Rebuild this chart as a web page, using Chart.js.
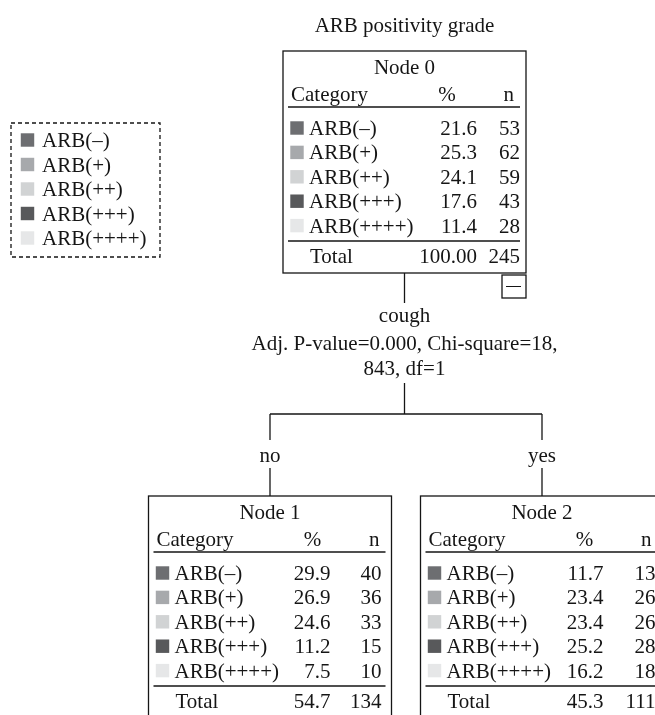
<!DOCTYPE html>
<html>
<head>
<meta charset="utf-8">
<title>ARB positivity grade</title>
<script src="https://cdn.jsdelivr.net/npm/chart.js@4.4.1/dist/chart.umd.min.js"></script>
<style>
  html, body { margin: 0; padding: 0; background: #fff; }
  canvas { display: block; }
</style>
</head>
<body>
<canvas id="tree" width="655" height="715"></canvas>
<script>
// datos del arbol
const chartTitle = "ARB positivity grade";
const categories = ["ARB(–)", "ARB(+)", "ARB(++)", "ARB(+++)", "ARB(++++)"];
const categoryColors = ["#6d6e71", "#a7a9ac", "#d1d3d4", "#58595b", "#e6e7e8"];
const nodeNames = ["Node 0", "Node 1", "Node 2"];
const node0Pct = [21.6, 25.3, 24.1, 17.6, 11.4];
const node0N = [53, 62, 59, 43, 28];
const node1Pct = [29.9, 26.9, 24.6, 11.2, 7.5];
const node1N = [40, 36, 33, 15, 10];
const node2Pct = [11.7, 23.4, 23.4, 25.2, 16.2];
const node2N = [13, 26, 26, 28, 18];
const totalPct = ["100.00", "54.7", "45.3"];
const totalN = [245, 134, 111];
const splitVariable = "cough";
const splitStats = ["Adj. P-value=0.000, Chi-square=18,", "843, df=1"];
const branchLabels = ["no", "yes"];

const nodePct = [node0Pct, node1Pct, node2Pct];
const nodeN = [node0N, node1N, node2N];

// layout del diagrama (en unidades de las escalas x / y)
const W = 655, H = 715;
const boxW = 243, boxH = 222;
const nodeBoxes = [
  { left: 283, top: 51 },
  { left: 148.5, top: 496 },
  { left: 420.5, top: 496 }
];
const pctRight = [194, 182, 183];
const nRight = [237, 233, 235];
const rowY = (top, i) => top + 77 + i * 24.4;
const legendRowY = i => 140 + i * 24.5;
const FONT = "21px 'Liberation Serif', 'DejaVu Serif', serif";
const INK = "#151515";

// cuadrados de color: un dataset por categoria (leyenda + cada nodo)
const datasets = categories.map((c, i) => {
  const pts = [{ x: 27.5, y: legendRowY(i) }];
  nodeBoxes.forEach(b => pts.push({ x: b.left + 14, y: rowY(b.top, i) }));
  return {
    label: c,
    data: pts,
    pointStyle: "rect",
    pointRadius: 9.5,
    pointBorderWidth: 0,
    backgroundColor: categoryColors[i],
    borderColor: categoryColors[i]
  };
});

const treePlugin = {
  id: "treePlugin",
  afterDatasetsDraw(chart) {
    const ctx = chart.ctx;
    const X = v => chart.scales.x.getPixelForValue(v);
    const Y = v => chart.scales.y.getPixelForValue(v);
    const line = (x1, y1, x2, y2) => {
      ctx.beginPath();
      ctx.moveTo(X(x1), Y(y1));
      ctx.lineTo(X(x2), Y(y2));
      ctx.stroke();
    };
    const text = (s, x, y, align) => {
      ctx.textAlign = align;
      ctx.fillText(String(s), X(x), Y(y));
    };

    ctx.save();
    ctx.font = FONT;
    ctx.fillStyle = INK;
    ctx.strokeStyle = INK;
    ctx.lineWidth = 1.3;
    ctx.textBaseline = "alphabetic";

    // titulo
    text(chartTitle, 404.5, 32, "center");

    // leyenda con borde punteado
    ctx.setLineDash([4, 3]);
    ctx.strokeRect(X(11), Y(123), X(160) - X(11), Y(257) - Y(123));
    ctx.setLineDash([]);
    categories.forEach((c, i) => text(c, 42, legendRowY(i) + 7, "left"));

    // nodos
    nodeBoxes.forEach((b, k) => {
      const L = b.left, T = b.top, R = L + boxW;
      ctx.strokeRect(X(L), Y(T), X(R) - X(L), Y(T + boxH) - Y(T));
      text(nodeNames[k], L + boxW / 2, T + 23, "center");
      text("Category", L + 8, T + 50, "left");
      text("%", L + 164, T + 50, "center");
      text("n", L + 231, T + 50, "right");
      line(L + 5, T + 56, R - 6, T + 56);
      categories.forEach((c, i) => {
        const yb = rowY(T, i) + 7;
        text(c, L + 26, yb, "left");
        text(nodePct[k][i].toFixed(1), L + pctRight[k], yb, "right");
        text(nodeN[k][i], L + nRight[k], yb, "right");
      });
      line(L + 5, T + 190, R - 6, T + 190);
      text("Total", L + 27, T + 212, "left");
      text(totalPct[k], L + pctRight[k], T + 212, "right");
      text(totalN[k], L + nRight[k], T + 212, "right");
    });

    // boton de colapsar del nodo 0
    const n0 = nodeBoxes[0];
    ctx.strokeRect(X(n0.left + boxW - 24), Y(275), X(24) - X(0), Y(298) - Y(275));
    ctx.lineWidth = 1;
    line(n0.left + boxW - 20, 286.5, n0.left + boxW - 5, 286.5);
    ctx.lineWidth = 1.3;

    // division y ramas
    const cx = n0.left + boxW / 2;
    line(cx, n0.top + boxH, cx, 303);
    text(splitVariable, cx, 322, "center");
    splitStats.forEach((s, i) => text(s, cx, 350 + i * 25, "center"));
    line(cx, 383, cx, 414);
    const c1 = nodeBoxes[1].left + boxW / 2;
    const c2 = nodeBoxes[2].left + boxW / 2;
    line(c1, 414, c2, 414);
    [c1, c2].forEach((c, i) => {
      line(c, 414, c, 440);
      text(branchLabels[i], c, 462, "center");
      line(c, 468, c, nodeBoxes[i + 1].top);
    });
    ctx.restore();
  }
};

new Chart(document.getElementById("tree"), {
  type: "scatter",
  data: { datasets: datasets },
  options: {
    responsive: false,
    animation: false,
    events: [],
    layout: { padding: 0, autoPadding: false },
    plugins: { legend: { display: false }, tooltip: { enabled: false } },
    scales: {
      x: { type: "linear", min: 0, max: W, display: false },
      y: { type: "linear", min: 0, max: H, reverse: true, display: false }
    }
  },
  plugins: [treePlugin]
});
</script>
</body>
</html>
